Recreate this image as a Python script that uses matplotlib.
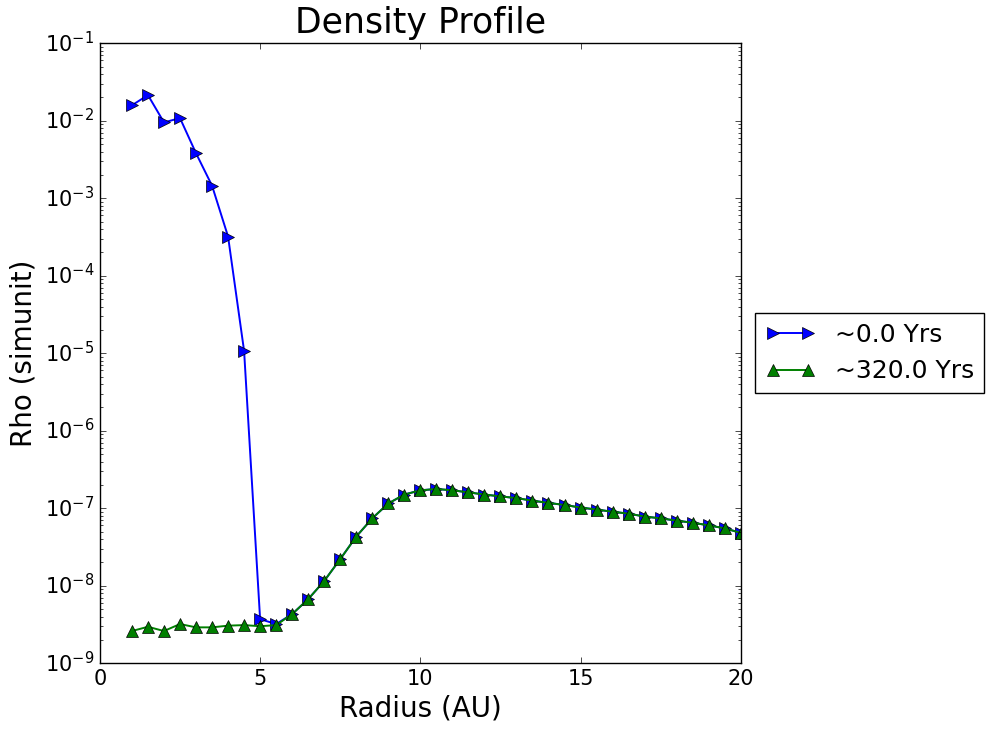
import matplotlib
matplotlib.use("Agg")
import matplotlib.pyplot as plt
import numpy as np

plt.style.use("classic")

radius = [1.0, 1.5, 2.0, 2.5, 3.0, 3.5, 4.0, 4.5, 5.0, 5.5, 6.0, 6.5, 7.0, 7.5,
          8.0, 8.5, 9.0, 9.5, 10.0, 10.5, 11.0, 11.5, 12.0, 12.5, 13.0, 13.5,
          14.0, 14.5, 15.0, 15.5, 16.0, 16.5, 17.0, 17.5, 18.0, 18.5, 19.0,
          19.5, 20.0]

rho_t0 = [1.58e-2, 2.14e-2, 9.5e-3, 1.08e-2, 3.8e-3, 1.45e-3, 3.2e-4, 1.07e-5,
          3.7e-9, 3.2e-9, 4.3e-9, 6.7e-9, 1.15e-8, 2.2e-8, 4.3e-8, 7.4e-8,
          1.15e-7, 1.5e-7, 1.7e-7, 1.77e-7, 1.7e-7, 1.6e-7, 1.5e-7, 1.42e-7,
          1.35e-7, 1.25e-7, 1.17e-7, 1.1e-7, 1.02e-7, 9.6e-8, 9.0e-8, 8.5e-8,
          7.8e-8, 7.4e-8, 6.9e-8, 6.5e-8, 6.0e-8, 5.5e-8, 4.8e-8]

rho_t320 = [2.6e-9, 2.95e-9, 2.6e-9, 3.2e-9, 2.9e-9, 2.9e-9, 3.05e-9, 3.1e-9,
            3.0e-9, 3.1e-9, 4.3e-9, 6.7e-9, 1.15e-8, 2.2e-8, 4.3e-8, 7.4e-8,
            1.15e-7, 1.5e-7, 1.7e-7, 1.77e-7, 1.7e-7, 1.6e-7, 1.5e-7, 1.42e-7,
            1.35e-7, 1.25e-7, 1.17e-7, 1.1e-7, 1.02e-7, 9.6e-8, 9.0e-8, 8.5e-8,
            7.8e-8, 7.4e-8, 6.9e-8, 6.5e-8, 6.0e-8, 5.5e-8, 4.8e-8]

labels = ["~0.0 Yrs", "~320.0 Yrs"]

fig = plt.figure(figsize=(9.89, 7.32), dpi=100, facecolor="white")
ax = fig.add_axes([0.101, 0.094, 0.648, 0.847])

ax.plot(radius, rho_t0, color="blue", marker=">", markersize=8, lw=1.4,
        markeredgecolor="black", label=labels[0])
ax.plot(radius, rho_t320, color="green", marker="^", markersize=8, lw=1.4,
        markeredgecolor="black", label=labels[1])

ax.set_yscale("log")
ax.set_xlim(0, 20)
ax.set_ylim(1e-9, 1e-1)
ax.set_xticks([0, 5, 10, 15, 20])
ax.tick_params(labelsize=15)
ax.set_title("Density Profile", fontsize=25, y=1.005)
ax.set_xlabel("Radius (AU)", fontsize=20, labelpad=4)
ax.set_ylabel("Rho (simunit)", fontsize=20)

leg = ax.legend(loc="center left", bbox_to_anchor=(1.003, 0.5), fontsize=18,
                numpoints=2, frameon=True)

fig.savefig("out.png", dpi=100, facecolor="white")
